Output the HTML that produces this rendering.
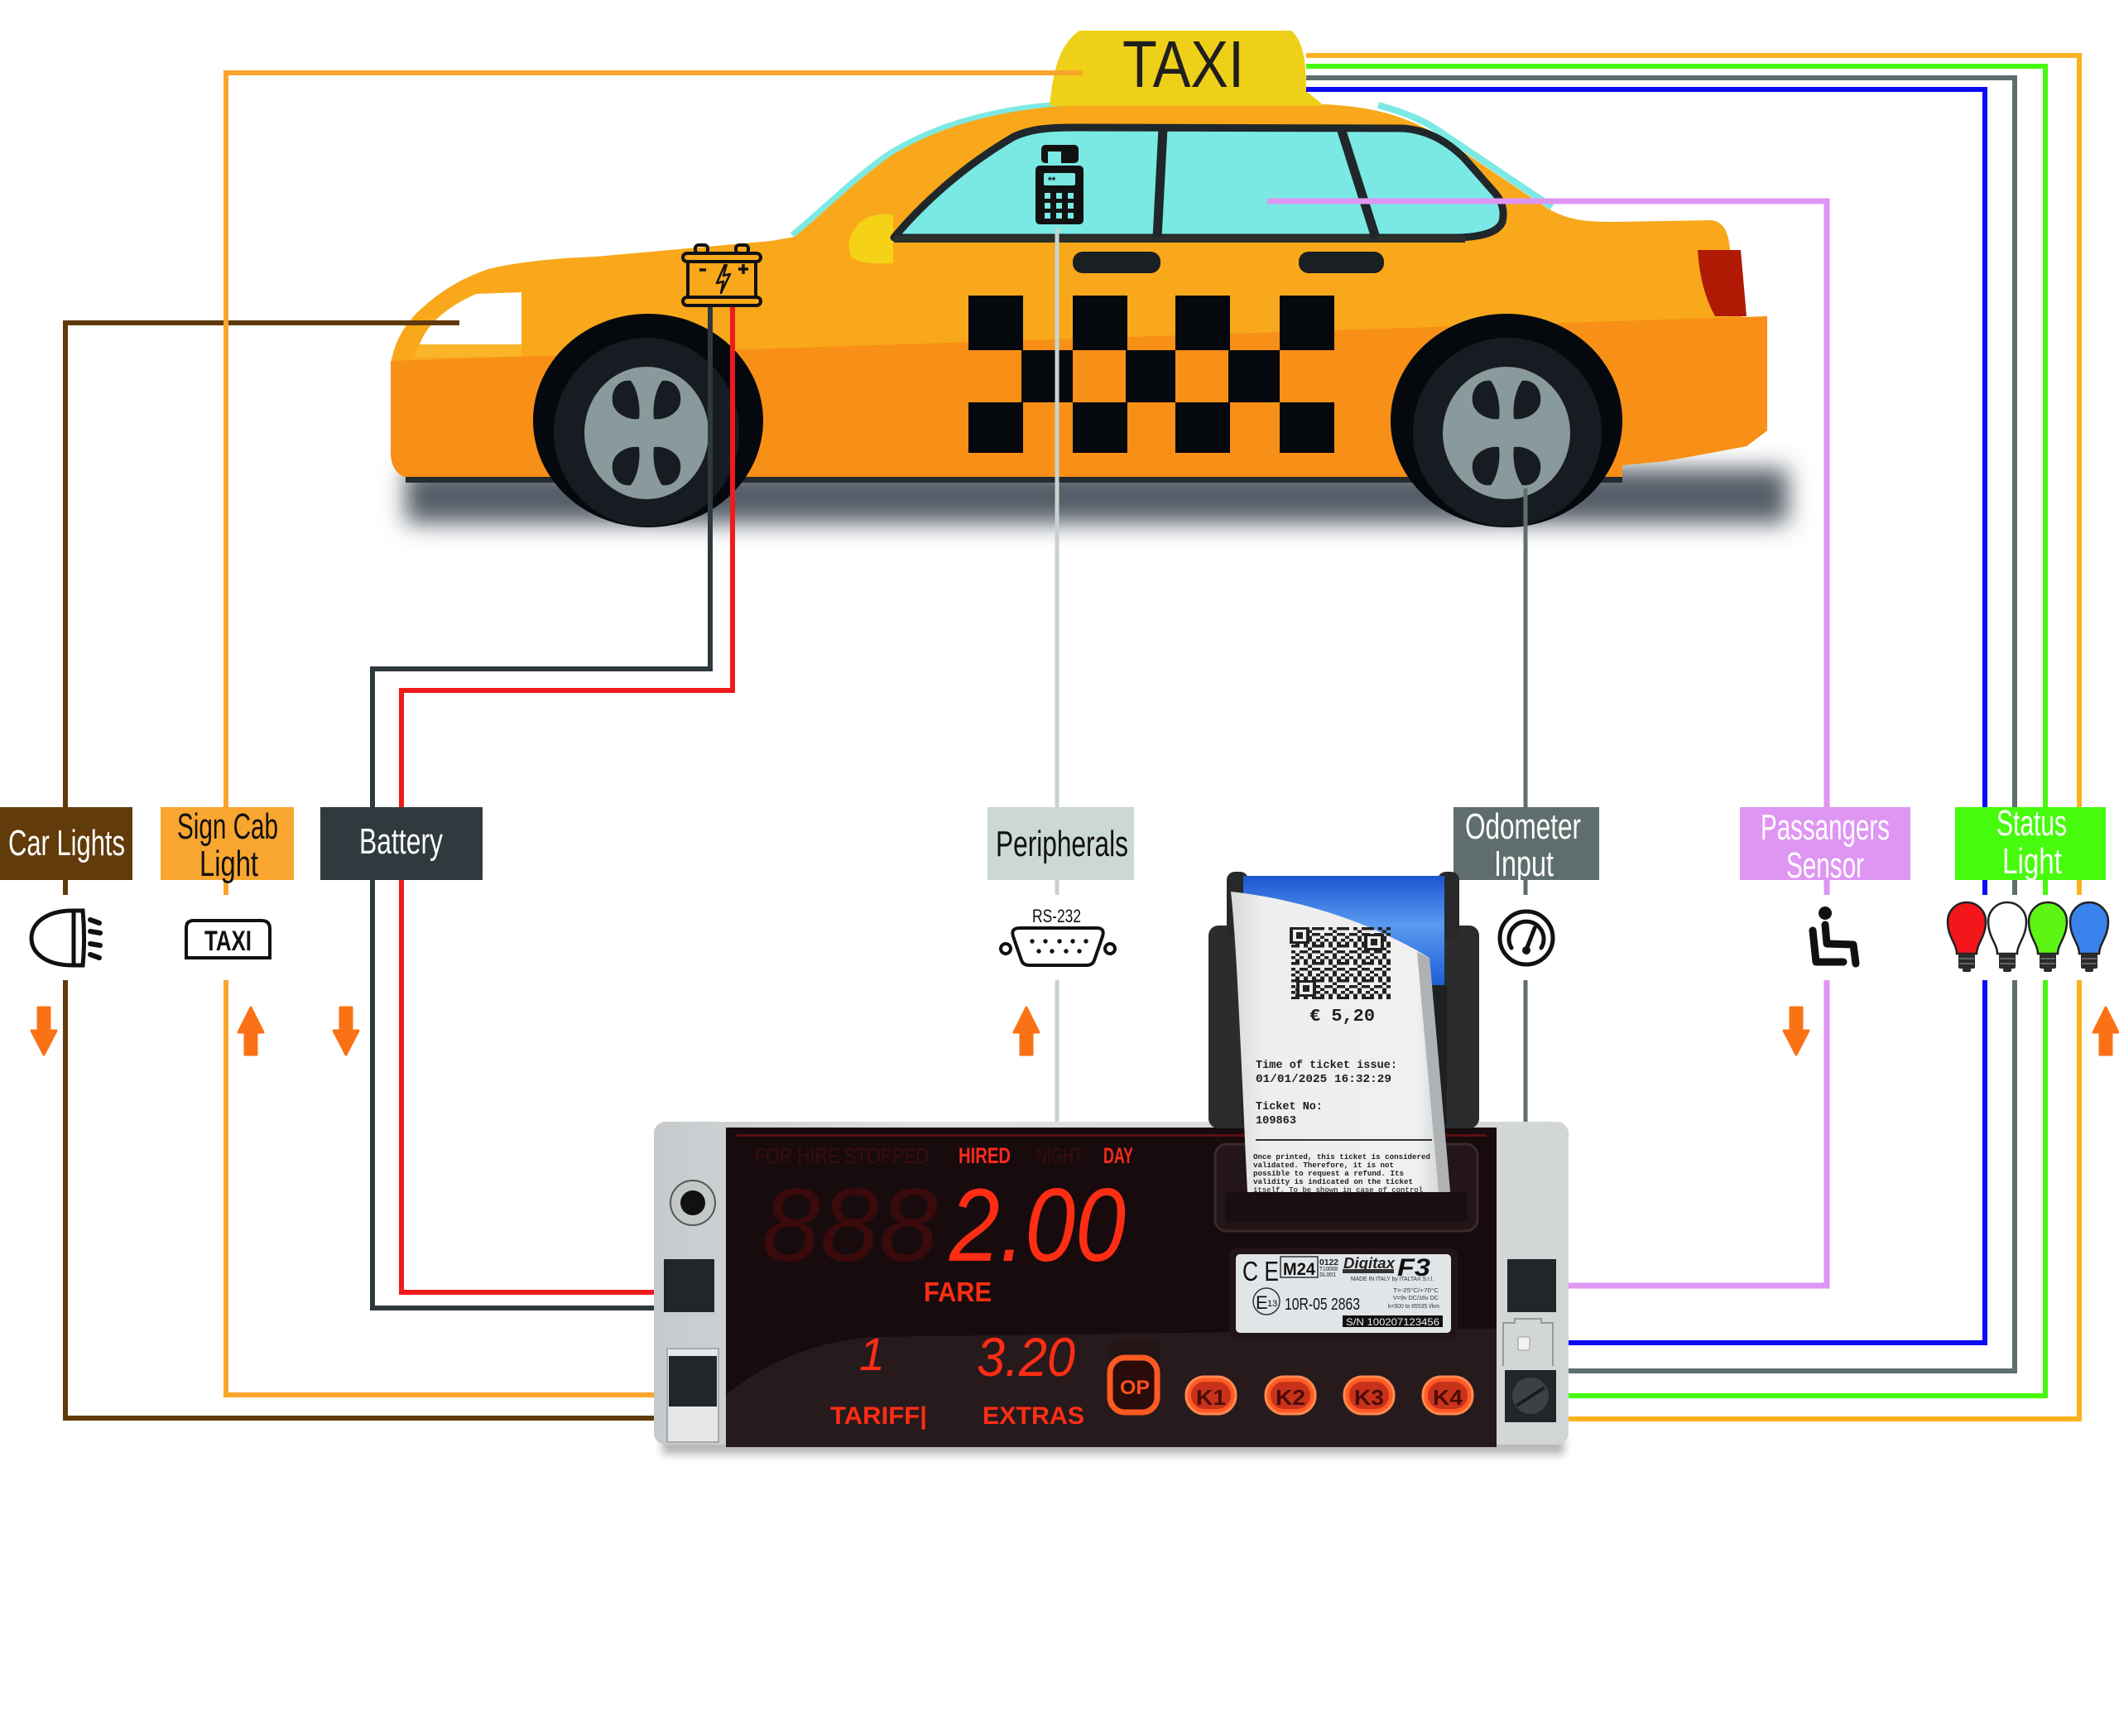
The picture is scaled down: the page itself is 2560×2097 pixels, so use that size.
<!DOCTYPE html>
<html><head><meta charset="utf-8"><style>html,body{margin:0;padding:0;background:#fff}svg{display:block}</style></head>
<body>
<svg xmlns="http://www.w3.org/2000/svg" width="2560" height="2097" viewBox="0 0 2560 2097" font-family="'Liberation Sans', sans-serif">
<defs>
<filter id="blur" x="-10%" y="-100%" width="120%" height="300%"><feGaussianBlur stdDeviation="14"/></filter>
<filter id="blur2" x="-10%" y="-100%" width="120%" height="300%"><feGaussianBlur stdDeviation="5"/></filter>
<linearGradient id="blueRoll" x1="0" y1="0" x2="0" y2="1"><stop offset="0" stop-color="#1c55d0"/><stop offset="0.45" stop-color="#5a9af0"/><stop offset="1" stop-color="#1f5ed6"/></linearGradient>
<linearGradient id="paper" x1="0" y1="0" x2="1" y2="0"><stop offset="0" stop-color="#d7d9db"/><stop offset="0.15" stop-color="#eeeeee"/><stop offset="0.85" stop-color="#f0f0f0"/><stop offset="1" stop-color="#c9cccf"/></linearGradient>
<linearGradient id="grayBody" x1="0" y1="0" x2="1" y2="0"><stop offset="0" stop-color="#c7cacc"/><stop offset="0.3" stop-color="#dfe1e2"/><stop offset="1" stop-color="#d2d5d6"/></linearGradient>
<pattern id="qrp" x="1560" y="1120" width="30" height="21" patternUnits="userSpaceOnUse">
<rect x="0" y="0" width="5" height="3.5" fill="#222"/><rect x="5" y="0" width="5" height="3.5" fill="#222"/><rect x="15" y="0" width="5" height="3.5" fill="#222"/>
<rect x="20" y="3.5" width="5" height="3.5" fill="#222"/><rect x="0" y="7" width="5" height="3.5" fill="#222"/><rect x="10" y="7" width="10" height="3.5" fill="#222"/>
<rect x="25" y="7" width="5" height="3.5" fill="#222"/><rect x="5" y="10.5" width="5" height="3.5" fill="#222"/><rect x="20" y="10.5" width="5" height="7" fill="#222"/>
<rect x="0" y="14" width="5" height="3.5" fill="#222"/><rect x="10" y="14" width="5" height="3.5" fill="#222"/><rect x="5" y="17.5" width="5" height="3.5" fill="#222"/>
<rect x="15" y="17.5" width="5" height="3.5" fill="#222"/><rect x="25" y="17.5" width="5" height="3.5" fill="#222"/><rect x="25" y="0" width="5" height="3.5" fill="#222"/>
</pattern>
</defs>

<!-- ================= CAR ================= -->
<rect x="490" y="566" width="1670" height="66" fill="#555d67" filter="url(#blur)"/>
<!-- cyan fringes (thin, under body) -->
<path d="M 960 286 C 990 262 1040 212 1080 186 C 1130 156 1200 132 1300 127" fill="none" stroke="#7de9e4" stroke-width="7" transform="translate(-3,-2)"/>
<path d="M 1660 129 C 1700 140 1720 150 1745 168 L 1870 252" fill="none" stroke="#7de9e4" stroke-width="8" transform="translate(5,-2)"/>
<!-- upper body -->
<path d="M 497 578 Q 472 575 472 545 L 472 440 Q 478 400 510 372 Q 545 340 590 325 Q 640 313 720 310 L 932 291 L 960 286 C 990 262 1040 212 1080 186 C 1130 156 1200 132 1300 127 L 1600 126 C 1660 129 1700 140 1745 168 L 1870 252 C 1895 266 1915 268 1950 268 L 2068 266 C 2082 268 2088 280 2090 300 L 2098 380 L 2130 392 L 2135 520 L 2110 539 L 2012 557 L 1960 562 L 1960 578 Z" fill="#f8a81a"/>
<!-- lower darker band -->
<path d="M 472 436 L 2135 382 L 2135 520 L 2110 539 L 2012 557 L 1960 562 L 1960 578 L 497 578 Q 472 575 472 545 Z" fill="#f88f16"/>
<!-- taillight -->
<path d="M 2051 302 L 2103 302 L 2110 382 L 2072 382 Q 2054 350 2051 302 Z" fill="#b01a05"/>
<!-- headlight -->
<path d="M 575 355 L 630 353 L 630 416 L 507 416 Q 520 380 575 355 Z" fill="#ffffff"/>
<path d="M 507 416 L 630 416 L 630 430 L 500 432 Z" fill="#fbb52a"/>
<!-- yellow marker -->
<path d="M 1079 259 Q 1048 256 1034 274 Q 1020 294 1029 311 Q 1040 320 1079 318 Z" fill="#f5d215"/>
<!-- body bottom strip -->
<rect x="490" y="576" width="1470" height="7" fill="#262b30"/>
<!-- checker -->
<g fill="#05090e">
<rect x="1170" y="357" width="66" height="66"/><rect x="1296" y="357" width="66" height="66"/><rect x="1420" y="357" width="66" height="66"/><rect x="1546" y="357" width="66" height="66"/>
<rect x="1234" y="423" width="62" height="63"/><rect x="1360" y="423" width="60" height="63"/><rect x="1484" y="423" width="62" height="63"/>
<rect x="1170" y="486" width="66" height="61"/><rect x="1296" y="486" width="66" height="61"/><rect x="1420" y="486" width="66" height="61"/><rect x="1546" y="486" width="66" height="61"/>
</g>
<!-- windows -->
<path d="M 1080 287 C 1115 245 1165 200 1225 165 C 1245 156 1265 154 1297 154 L 1695 155 C 1722 157 1745 168 1768 190 L 1805 232 C 1815 243 1818 255 1815 268 C 1810 280 1792 286 1762 287 Z" fill="#7ae8e3" stroke="#20272a" stroke-width="9" stroke-linejoin="round"/>
<rect x="1080" y="285" width="690" height="8" fill="#2c2f2a"/>
<path d="M 1405 155 L 1398 287" stroke="#20272a" stroke-width="11"/>
<path d="M 1620 155 L 1662 287" stroke="#20272a" stroke-width="11"/>
<!-- door handles -->
<rect x="1296" y="304" width="106" height="26" rx="12" fill="#1a1f22"/>
<rect x="1569" y="304" width="103" height="26" rx="12" fill="#1a1f22"/>
<!-- front wheel -->
<ellipse cx="783" cy="508" rx="139" ry="129" fill="#05090e"/>
<ellipse cx="781" cy="522" rx="112" ry="114" fill="#161c21"/>
<ellipse cx="781" cy="523" rx="75" ry="80" fill="#8a999b"/>
<g fill="#161c21">
<path d="M 772 506 C 760 508 742 500 740 486 C 738 470 748 458 762 460 C 770 470 774 490 772 506 Z"/>
<path d="M 790 506 C 802 508 820 500 822 486 C 824 470 814 458 800 460 C 792 470 788 490 790 506 Z"/>
<path d="M 772 540 C 760 538 742 546 740 560 C 738 576 748 588 762 586 C 770 576 774 556 772 540 Z"/>
<path d="M 790 540 C 802 538 820 546 822 560 C 824 576 814 588 800 586 C 792 576 788 556 790 540 Z"/>
</g>
<!-- rear wheel -->
<ellipse cx="1820" cy="508" rx="140" ry="129" fill="#05090e"/>
<ellipse cx="1821" cy="522" rx="114" ry="114" fill="#161c21"/>
<ellipse cx="1820" cy="523" rx="77" ry="80" fill="#8a999b"/>
<g fill="#161c21">
<path d="M 1811 506 C 1799 508 1781 500 1779 486 C 1777 470 1787 458 1801 460 C 1809 470 1813 490 1811 506 Z"/>
<path d="M 1829 506 C 1841 508 1859 500 1861 486 C 1863 470 1853 458 1839 460 C 1831 470 1827 490 1829 506 Z"/>
<path d="M 1811 540 C 1799 538 1781 546 1779 560 C 1777 576 1787 588 1801 586 C 1809 576 1813 556 1811 540 Z"/>
<path d="M 1829 540 C 1841 538 1859 546 1861 560 C 1863 576 1853 588 1839 586 C 1831 576 1827 556 1829 540 Z"/>
</g>
<!-- taxi sign -->
<path d="M 1268 128 C 1272 90 1278 55 1304 37 L 1560 37 C 1575 50 1578 75 1578 110 L 1600 128 Z" fill="#efd019"/>
<text x="1356" y="105" font-size="80" fill="#1f1f1d" textLength="147" lengthAdjust="spacingAndGlyphs">TAXI</text>

<!-- ================= WIRES ================= -->
<g fill="none" stroke-width="6" stroke-linejoin="miter">
<path d="M 555 390 H 79 V 1081" stroke="#603a0b"/>
<path d="M 79 1184 V 1713 H 800" stroke="#603a0b"/>
<path d="M 1308 88 H 273 V 1081" stroke="#f9a52b"/>
<path d="M 273 1184 V 1685 H 800" stroke="#f9a52b"/>
<path d="M 858 369 V 808 H 450 V 1580 H 800" stroke="#2e393d"/>
<path d="M 885 369 V 834 H 485 V 1561 H 800" stroke="#ef1b1b"/>
<path d="M 1277 275 V 1081 M 1277 1184 V 1360" stroke="#c7d3d0" stroke-width="5"/>
<path d="M 1843 590 V 1081 M 1843 1184 V 1360" stroke="#5f6e6e" stroke-width="5"/>
<path d="M 1531 243 H 2207 V 1081" stroke="#df96f2" stroke-width="7"/>
<path d="M 2207 1184 V 1553 H 1885" stroke="#df96f2" stroke-width="7"/>
<path d="M 1578 108 H 2398 V 1081 M 2398 1184 V 1622 H 1885" stroke="#0a0af5"/>
<path d="M 1578 94 H 2434 V 1081 M 2434 1184 V 1656 H 1885" stroke="#5f6e6e"/>
<path d="M 1578 80 H 2471 V 1081 M 2471 1184 V 1686 H 1885" stroke="#45f90d"/>
<path d="M 1578 67 H 2512 V 1081 M 2512 1184 V 1714 H 1885" stroke="#fbb120"/>
</g>

<!-- battery icon -->
<g fill="none" stroke="#111" stroke-width="4" stroke-linejoin="round">
<rect x="840" y="296" width="15" height="10" rx="4"/>
<rect x="889" y="296" width="15" height="10" rx="4"/>
<rect x="825" y="306" width="94" height="10" rx="5"/>
<rect x="831" y="316" width="82" height="43"/>
<rect x="825" y="359" width="94" height="10" rx="5"/>
<path d="M 845 326 H 853 M 898 319 V 331 M 892 325 H 904" stroke-width="3.5"/>
<path d="M 876 319 L 866 342 L 874 340 L 871 354 L 882 331 L 874 333 L 878 319" stroke-width="2.5"/>
</g>
<!-- phone icon -->
<g>
<rect x="1258" y="175" width="45" height="22" rx="5" fill="#111"/>
<rect x="1266" y="183" width="16" height="15" fill="#7ae8e3"/>
<rect x="1251" y="200" width="58" height="71" rx="5" fill="#111"/>
<rect x="1261" y="209" width="38" height="15" rx="2" fill="#7ae8e3"/>
<text x="1266" y="222" font-size="12" font-weight="bold" fill="#111">**</text>
<g fill="#7ae8e3">
<rect x="1262" y="233" width="7" height="7"/><rect x="1276" y="233" width="7" height="7"/><rect x="1290" y="233" width="7" height="7"/>
<rect x="1262" y="245" width="7" height="7"/><rect x="1276" y="245" width="7" height="7"/><rect x="1290" y="245" width="7" height="7"/>
<rect x="1262" y="257" width="7" height="7"/><rect x="1276" y="257" width="7" height="7"/><rect x="1290" y="257" width="7" height="7"/>
</g>
</g>

<!-- ================= LABEL BOXES ================= -->
<rect x="0" y="975" width="160" height="88" fill="#623b0b"/>
<text x="10" y="1033" font-size="44" fill="#fff" textLength="141" lengthAdjust="spacingAndGlyphs">Car Lights</text>
<rect x="194" y="975" width="161" height="88" fill="#f9a630"/>
<text x="214" y="1013" font-size="44" fill="#111" textLength="122" lengthAdjust="spacingAndGlyphs">Sign Cab</text>
<text x="241" y="1058" font-size="44" fill="#111" textLength="71" lengthAdjust="spacingAndGlyphs">Light</text>
<rect x="387" y="975" width="196" height="88" fill="#2f3a3e"/>
<text x="434" y="1031" font-size="44" fill="#fff" textLength="101" lengthAdjust="spacingAndGlyphs">Battery</text>
<rect x="1193" y="975" width="177" height="88" fill="#cbd8d4"/>
<text x="1203" y="1034" font-size="44" fill="#111" textLength="160" lengthAdjust="spacingAndGlyphs">Peripherals</text>
<rect x="1756" y="975" width="176" height="88" fill="#5f6e6d"/>
<text x="1770" y="1013" font-size="44" fill="#fff" textLength="140" lengthAdjust="spacingAndGlyphs">Odometer</text>
<text x="1805" y="1058" font-size="44" fill="#fff" textLength="72" lengthAdjust="spacingAndGlyphs">Input</text>
<rect x="2102" y="975" width="206" height="88" fill="#df96f2"/>
<text x="2127" y="1014" font-size="44" fill="#fff" textLength="156" lengthAdjust="spacingAndGlyphs">Passangers</text>
<text x="2158" y="1060" font-size="44" fill="#fff" textLength="94" lengthAdjust="spacingAndGlyphs">Sensor</text>
<rect x="2362" y="975" width="182" height="88" fill="#46fb0c"/>
<text x="2412" y="1009" font-size="44" fill="#fff" textLength="85" lengthAdjust="spacingAndGlyphs">Status</text>
<text x="2419" y="1055" font-size="44" fill="#fff" textLength="72" lengthAdjust="spacingAndGlyphs">Light</text>

<!-- ================= ICONS ================= -->
<!-- headlight -->
<g fill="none" stroke="#111" stroke-width="5" stroke-linecap="round">
<path d="M 100 1100 L 88 1100 C 55 1100 38 1116 38 1133 C 38 1151 55 1166 88 1166 L 100 1166 C 102 1145 102 1121 100 1100 Z"/>
<path d="M 89 1100 V 1166"/>
<path d="M 109 1111 L 120 1115 M 109 1125 L 121 1127 M 109 1140 L 121 1142 M 109 1153 L 120 1157" stroke-width="6"/>
</g>
<!-- taxi icon -->
<path d="M 225 1157 V 1121 Q 225 1112 234 1112 H 316 Q 326 1112 326 1122 V 1157 Z" fill="none" stroke="#111" stroke-width="4"/>
<text x="247" y="1148" font-size="34" font-weight="bold" fill="#111" textLength="57" lengthAdjust="spacingAndGlyphs">TAXI</text>
<!-- RS-232 -->
<text x="1247" y="1114" font-size="22" fill="#111" textLength="59" lengthAdjust="spacingAndGlyphs">RS-232</text>
<g fill="none" stroke="#111" stroke-width="4">
<circle cx="1215" cy="1146" r="6"/><circle cx="1341" cy="1146" r="6"/>
<path d="M 1232 1121 H 1325 Q 1335 1121 1332 1131 L 1322 1160 Q 1320 1166 1312 1166 H 1244 Q 1236 1166 1234 1160 L 1224 1131 Q 1221 1121 1232 1121 Z"/>
</g>
<g fill="#111">
<circle cx="1247" cy="1137" r="2.7"/><circle cx="1263" cy="1137" r="2.7"/><circle cx="1280" cy="1137" r="2.7"/><circle cx="1296" cy="1137" r="2.7"/><circle cx="1312" cy="1137" r="2.7"/>
<circle cx="1255" cy="1149" r="2.7"/><circle cx="1271" cy="1149" r="2.7"/><circle cx="1288" cy="1149" r="2.7"/><circle cx="1304" cy="1149" r="2.7"/>
</g>
<!-- gauge -->
<g fill="none" stroke="#111" stroke-width="5" stroke-linecap="round">
<circle cx="1844" cy="1133" r="32"/>
<path d="M 1826 1145 A 21 21 0 1 1 1862 1145"/>
<path d="M 1844 1147 L 1854 1121" stroke-width="5"/>
</g>
<circle cx="1844" cy="1148" r="5" fill="#111"/>
<!-- seat -->
<g fill="none" stroke="#111" stroke-width="9" stroke-linecap="round" stroke-linejoin="round">
<path d="M 2190 1124 L 2194 1162 L 2227 1162"/>
<path d="M 2205 1117 L 2207 1140 L 2239 1141 L 2242 1164"/>
</g>
<circle cx="2205" cy="1103" r="8" fill="#111"/>
<!-- bulbs -->
<g stroke="#222" stroke-width="2.5">
<path d="M 2364 1152 C 2364 1140 2353 1132 2353 1113 A 23 23 0 1 1 2399 1113 C 2399 1132 2388 1140 2388 1152 Z" fill="#f3161a"/>
<path d="M 2413 1152 C 2413 1140 2402 1132 2402 1113 A 23 23 0 1 1 2448 1113 C 2448 1132 2437 1140 2437 1152 Z" fill="#ffffff"/>
<path d="M 2462 1152 C 2462 1140 2451 1132 2451 1113 A 23 23 0 1 1 2497 1113 C 2497 1132 2486 1140 2486 1152 Z" fill="#5cf514"/>
<path d="M 2512 1152 C 2512 1140 2501 1132 2501 1113 A 23 23 0 1 1 2547 1113 C 2547 1132 2536 1140 2536 1152 Z" fill="#3a82ec"/>
</g>
<g fill="#2b2b2b">
<rect x="2366" y="1152" width="20" height="18" rx="2"/><rect x="2371" y="1169" width="10" height="5" rx="2"/>
<rect x="2415" y="1152" width="20" height="18" rx="2"/><rect x="2420" y="1169" width="10" height="5" rx="2"/>
<rect x="2464" y="1152" width="20" height="18" rx="2"/><rect x="2469" y="1169" width="10" height="5" rx="2"/>
<rect x="2514" y="1152" width="20" height="18" rx="2"/><rect x="2519" y="1169" width="10" height="5" rx="2"/>
</g>
<g stroke="#777" stroke-width="1.5">
<path d="M 2367 1158 H 2385 M 2367 1164 H 2385 M 2416 1158 H 2434 M 2416 1164 H 2434 M 2465 1158 H 2483 M 2465 1164 H 2483 M 2515 1158 H 2533 M 2515 1164 H 2533"/>
</g>
<!-- arrows -->
<g fill="#fb7216" stroke="#fb7216" stroke-width="3" stroke-linejoin="round">
<polygon points="46,1217 60,1217 60,1245 68,1245 53,1274 38,1245 46,1245"/>
<polygon points="303,1217 318,1247 310,1247 310,1274 296,1274 296,1247 288,1247"/>
<polygon points="411,1217 425,1217 425,1245 433,1245 418,1274 403,1245 411,1245"/>
<polygon points="1240,1217 1255,1247 1247,1247 1247,1274 1233,1274 1233,1247 1225,1247"/>
<polygon points="2163,1217 2177,1217 2177,1245 2185,1245 2170,1274 2155,1245 2163,1245"/>
<polygon points="2544,1217 2559,1247 2551,1247 2551,1274 2537,1274 2537,1247 2529,1247"/>
</g>

<!-- ================= METER ================= -->
<rect x="800" y="1735" width="1090" height="22" fill="#888" filter="url(#blur2)" opacity="0.6"/>
<rect x="790" y="1355" width="1105" height="390" rx="14" fill="url(#grayBody)"/>
<rect x="877" y="1362" width="931" height="386" fill="#170b0d"/>
<path d="M 877 1685 Q 950 1625 1050 1615 L 1808 1605 V 1748 H 877 Z" fill="#271a1c"/>
<rect x="890" y="1370" width="905" height="3" fill="#5a1012"/>
<!-- left side -->
<circle cx="837" cy="1453" r="27" fill="#c3c7c8" stroke="#555" stroke-width="2"/>
<circle cx="837" cy="1453" r="15" fill="#111"/>
<rect x="802" y="1521" width="61" height="64" fill="#232628"/>
<rect x="806" y="1629" width="62" height="113" fill="#e4e6e7" stroke="#a5a9ab" stroke-width="2"/>
<rect x="808" y="1638" width="58" height="61" fill="#232628"/>
<!-- right side -->
<rect x="1821" y="1521" width="59" height="64" fill="#232628"/>
<path d="M 1816 1650 V 1598 H 1830 V 1593 H 1862 V 1598 H 1876 V 1650" fill="none" stroke="#999" stroke-width="2"/>
<rect x="1834" y="1615" width="14" height="16" rx="2" fill="#f2f2f2" stroke="#999"/>
<rect x="1818" y="1655" width="62" height="63" fill="#232628"/>
<circle cx="1849" cy="1686" r="22" fill="#3d4143"/>
<path d="M 1832 1698 L 1866 1676" stroke="#1a1a1a" stroke-width="4"/>
<!-- status texts -->
<text x="912" y="1405" font-size="26" fill="#3b0c0e" textLength="210" lengthAdjust="spacingAndGlyphs">FOR HIRE  STOPPED</text>
<text x="1158" y="1405" font-size="27" font-weight="bold" fill="#ff2a1a" textLength="63" lengthAdjust="spacingAndGlyphs">HIRED</text>
<text x="1252" y="1405" font-size="26" fill="#3b0c0e" textLength="56" lengthAdjust="spacingAndGlyphs">NIGHT</text>
<text x="1333" y="1405" font-size="27" font-weight="bold" fill="#ff2a1a" textLength="36" lengthAdjust="spacingAndGlyphs">DAY</text>
<!-- digits -->
<text x="920" y="1523" font-size="125" font-style="italic" fill="#3a0a0c" textLength="213" lengthAdjust="spacingAndGlyphs">888</text>
<text x="1147" y="1523" font-size="125" font-style="italic" fill="#ff2d14" textLength="213" lengthAdjust="spacingAndGlyphs">2.00</text>
<text x="1116" y="1572" font-size="33" font-weight="bold" fill="#ff2d14" textLength="82" lengthAdjust="spacingAndGlyphs">FARE</text>
<text x="1038" y="1655" font-size="56" font-style="italic" fill="#ff2d14">1</text>
<text x="1180" y="1662" font-size="66" font-style="italic" fill="#ff2d14" textLength="119" lengthAdjust="spacingAndGlyphs">3.20</text>
<text x="1003" y="1720" font-size="30" font-weight="bold" fill="#ff2d14" textLength="117" lengthAdjust="spacingAndGlyphs">TARIFF|</text>
<text x="1187" y="1720" font-size="30" font-weight="bold" fill="#ff2d14" textLength="123" lengthAdjust="spacingAndGlyphs">EXTRAS</text>
<!-- buttons -->
<rect x="1338" y="1618" width="63" height="30" rx="14" fill="#231416"/>
<rect x="1341" y="1640" width="57" height="66" rx="18" fill="#2a0c0a" stroke="#ff5a22" stroke-width="7"/>
<text x="1353" y="1684" font-size="24" font-weight="bold" fill="#ff5020" textLength="36" lengthAdjust="spacingAndGlyphs">OP</text>
<g>
<rect x="1433" y="1663" width="60" height="45" rx="22" fill="#ff5b24" stroke="#ff8a50" stroke-width="3"/>
<rect x="1439" y="1669" width="48" height="33" rx="16" fill="#c9321a"/>
<text x="1445" y="1697" font-size="26" font-weight="bold" fill="#4a0c08" textLength="36" lengthAdjust="spacingAndGlyphs">K1</text>
<rect x="1529" y="1663" width="60" height="45" rx="22" fill="#ff5b24" stroke="#ff8a50" stroke-width="3"/>
<rect x="1535" y="1669" width="48" height="33" rx="16" fill="#c9321a"/>
<text x="1541" y="1697" font-size="26" font-weight="bold" fill="#4a0c08" textLength="36" lengthAdjust="spacingAndGlyphs">K2</text>
<rect x="1624" y="1663" width="60" height="45" rx="22" fill="#ff5b24" stroke="#ff8a50" stroke-width="3"/>
<rect x="1630" y="1669" width="48" height="33" rx="16" fill="#c9321a"/>
<text x="1636" y="1697" font-size="26" font-weight="bold" fill="#4a0c08" textLength="36" lengthAdjust="spacingAndGlyphs">K3</text>
<rect x="1719" y="1663" width="60" height="45" rx="22" fill="#ff5b24" stroke="#ff8a50" stroke-width="3"/>
<rect x="1725" y="1669" width="48" height="33" rx="16" fill="#c9321a"/>
<text x="1731" y="1697" font-size="26" font-weight="bold" fill="#4a0c08" textLength="36" lengthAdjust="spacingAndGlyphs">K4</text>
</g>
<!-- label plate -->
<rect x="1485" y="1507" width="276" height="111" rx="10" fill="#211517"/>
<rect x="1493" y="1515" width="260" height="95" rx="5" fill="#e2e5e8"/>
<text x="1501" y="1547" font-size="33" fill="#111" textLength="44" lengthAdjust="spacingAndGlyphs">C E</text>
<rect x="1547" y="1518" width="45" height="25" fill="none" stroke="#333" stroke-width="1.5"/>
<text x="1550" y="1540" font-size="21" font-weight="bold" fill="#111" textLength="39" lengthAdjust="spacingAndGlyphs">M24</text>
<text x="1594" y="1528" font-size="10" font-weight="bold" fill="#222" textLength="23" lengthAdjust="spacingAndGlyphs">0122</text>
<text x="1594" y="1535" font-size="7" fill="#222" textLength="22" lengthAdjust="spacingAndGlyphs">T10008</text>
<text x="1594" y="1542" font-size="7" fill="#222" textLength="20" lengthAdjust="spacingAndGlyphs">SL001</text>
<text x="1623" y="1532" font-size="18" font-weight="bold" font-style="italic" fill="#222" textLength="62" lengthAdjust="spacingAndGlyphs">Digitax</text>
<rect x="1622" y="1533" width="62" height="5" fill="#333"/>
<text x="1688" y="1541" font-size="30" font-weight="bold" font-style="italic" fill="#111" textLength="40" lengthAdjust="spacingAndGlyphs">F3</text>
<text x="1632" y="1547" font-size="7" fill="#333" textLength="100" lengthAdjust="spacingAndGlyphs">MADE IN ITALY by ITALTAX S.r.l.</text>
<circle cx="1530" cy="1572" r="16" fill="none" stroke="#333" stroke-width="1.5"/>
<text x="1517" y="1581" font-size="22" fill="#111">E</text>
<text x="1531" y="1578" font-size="11" fill="#111">13</text>
<text x="1552" y="1582" font-size="20" fill="#111" textLength="91" lengthAdjust="spacingAndGlyphs">10R-05 2863</text>
<text x="1683" y="1561" font-size="7" fill="#333" textLength="55" lengthAdjust="spacingAndGlyphs">T=-25°C/+70°C</text>
<text x="1683" y="1570" font-size="7" fill="#333" textLength="55" lengthAdjust="spacingAndGlyphs">V=9v DC/16v DC</text>
<text x="1677" y="1580" font-size="7" fill="#333" textLength="62" lengthAdjust="spacingAndGlyphs">k=500 to 65535 I/km</text>
<rect x="1622" y="1589" width="121" height="14" fill="#111"/>
<text x="1626" y="1601" font-size="12" fill="#eee" textLength="113" lengthAdjust="spacingAndGlyphs">S/N  100207123456</text>
<!-- printer slot -->
<rect x="1468" y="1382" width="317" height="105" rx="14" fill="#241618" stroke="#3a2a2c" stroke-width="3"/>
<rect x="1480" y="1440" width="293" height="36" rx="6" fill="#1a0f10"/>
<!-- printer body -->
<rect x="1460" y="1118" width="327" height="245" rx="12" fill="#2a2c2e"/>
<rect x="1482" y="1053" width="26" height="80" rx="10" fill="#26282a"/>
<rect x="1737" y="1053" width="26" height="80" rx="10" fill="#26282a"/>
<rect x="1502" y="1058" width="243" height="132" fill="url(#blueRoll)"/>
<rect x="1500" y="1190" width="248" height="170" fill="#1e2022"/>
<!-- paper -->
<path d="M 1487 1077 C 1560 1085 1650 1110 1727 1157 L 1752 1440 L 1507 1440 C 1500 1300 1495 1150 1487 1077 Z" fill="url(#paper)"/>
<path d="M 1712 1150 L 1727 1157 L 1752 1440 L 1738 1440 Z" fill="#aeb2b5"/>
<!-- QR -->
<rect x="1560" y="1120" width="120" height="87" fill="url(#qrp)"/>
<g>
<rect x="1558" y="1120" width="24" height="20" fill="#222"/><rect x="1562" y="1123" width="16" height="14" fill="#eee"/><rect x="1566" y="1126" width="8" height="8" fill="#222"/>
<rect x="1648" y="1128" width="24" height="20" fill="#222"/><rect x="1652" y="1131" width="16" height="14" fill="#eee"/><rect x="1656" y="1134" width="8" height="8" fill="#222"/>
<rect x="1566" y="1184" width="24" height="20" fill="#222"/><rect x="1570" y="1187" width="16" height="14" fill="#eee"/><rect x="1574" y="1190" width="8" height="8" fill="#222"/>
</g>
<g font-family="'Liberation Mono', monospace" fill="#1e1e1e" font-weight="bold">
<text x="1582" y="1233" font-size="21" textLength="79" lengthAdjust="spacingAndGlyphs">€ 5,20</text>
<text x="1517" y="1290" font-size="14" textLength="171" lengthAdjust="spacingAndGlyphs">Time of ticket issue:</text>
<text x="1517" y="1307" font-size="14" textLength="164" lengthAdjust="spacingAndGlyphs">01/01/2025  16:32:29</text>
<text x="1517" y="1340" font-size="14" textLength="81" lengthAdjust="spacingAndGlyphs">Ticket No:</text>
<text x="1517" y="1357" font-size="14" textLength="49" lengthAdjust="spacingAndGlyphs">109863</text>
<text x="1514" y="1400" font-size="9" textLength="214" lengthAdjust="spacingAndGlyphs">Once printed, this ticket is considered</text>
<text x="1514" y="1410" font-size="9" textLength="170" lengthAdjust="spacingAndGlyphs">validated. Therefore, it is not</text>
<text x="1514" y="1420" font-size="9" textLength="182" lengthAdjust="spacingAndGlyphs">possible to request a refund. Its</text>
<text x="1514" y="1430" font-size="9" textLength="193" lengthAdjust="spacingAndGlyphs">validity is indicated on the ticket</text>
<text x="1514" y="1440" font-size="9" textLength="205" lengthAdjust="spacingAndGlyphs" fill="#444">itself. To be shown in case of control</text>
</g>
<rect x="1517" y="1376" width="213" height="2" fill="#333"/>
</svg>
</body></html>
